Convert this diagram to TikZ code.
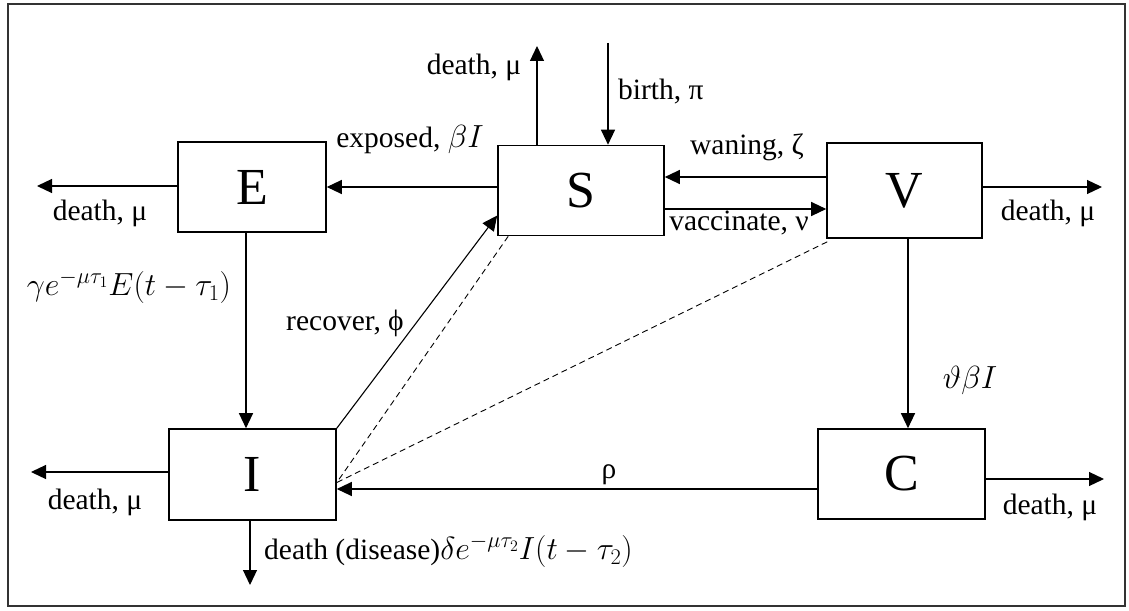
\RequirePackage{fix-cm}
\documentclass[tikz,border=0pt]{standalone}
\usepackage{fontspec}
\setmainfont{Liberation Serif}
\usetikzlibrary{arrows.meta,calc}

\newcommand{\mathbig}[1]{{\fontsize{32}{38}\selectfont$#1$}}

\tikzset{
  comp/.style={draw, line width=1.6pt, inner sep=0pt,
    font=\fontsize{52}{60}\selectfont},
  flow/.style={line width=1.2pt, -{Triangle[length=15pt,width=14pt]}},
  link/.style={line width=0.9pt, dash pattern=on 6pt off 4pt},
  lbl/.style={font=\fontsize{29.5}{35}\selectfont, inner sep=0pt},
}

\begin{document}
\begin{tikzpicture}[x=1pt,y=-1pt]
  \useasboundingbox (0,0) rectangle (1129,610);
  \draw[line width=1.5pt, black!80] (8,4) rectangle (1125,606);

  % compartments
  \node[comp, minimum width=148pt, minimum height=90pt] (E) at (252,187) {E};
  \node[comp, minimum width=166pt, minimum height=90pt] (S) at (581,190.5) {S};
  \node[comp, minimum width=155pt, minimum height=95pt] (V) at (904.5,190.5) {V};
  \node[comp, minimum width=167pt, minimum height=91pt] (I) at (252.5,474.5) {I};
  \node[comp, minimum width=167pt, minimum height=90pt] (C) at (901.5,474) {C};

  % free ends of the inflow / outflow arrows
  \coordinate (Edeath) at (37,186);
  \coordinate (Sdeath) at (537,46);
  \coordinate (Sbirth) at (608,43);
  \coordinate (Vdeath) at (1102,187);
  \coordinate (Cdeath) at (1104,479);
  \coordinate (Ideath) at (31,472);
  \coordinate (Idis) at (250,585);

  % attachment points on the box sides
  \coordinate (VwUp) at ($(V.west)+(0,-13.5)$);
  \coordinate (SeLow) at ($(S.east)+(0,18.5)$);
  \coordinate (Esx) at ($(E.south)+(-6,0)$);
  \coordinate (Vsx) at ($(V.south)+(3.5,0)$);
  \coordinate (rhoY) at (0,489);
  \coordinate (Swr) at ($(S.west)+(0,25)$);
  \coordinate (Ie) at ($(I.east)+(0,8)$);

  % S and its neighbours
  \draw[flow] (S.west |- E.east) -- (E.east);
  \draw[flow] (E.west |- Edeath) -- (Edeath);
  \draw[flow] (S.north -| Sdeath) -- (Sdeath);
  \draw[flow] (Sbirth) -- (S.north -| Sbirth);
  \draw[flow] (VwUp) -- (VwUp -| S.east);
  \draw[flow] (SeLow) -- (SeLow -| V.west);
  \draw[flow] (V.east |- Vdeath) -- (Vdeath);

  % vertical transfers
  \draw[flow] (Esx) -- (Esx |- I.north);
  \draw[flow] (Vsx) -- (Vsx |- C.north);

  % flows into and out of I and C
  \draw[flow] (C.west |- rhoY) -- (I.east |- rhoY);
  \draw[flow] (C.east |- Cdeath) -- (Cdeath);
  \draw[flow] (I.west |- Ideath) -- (Ideath);
  \draw[flow] (I.south -| Idis) -- (Idis);
  \draw[flow, line width=1.1pt] (I.north east) -- (Swr);

  % infection contacts
  \draw[link] ($(S.south west)+(11,0)$) -- (Ie);
  \draw[link] ($(V.south west)+(1,3)$) -- (Ie);

  % labels
  \node[lbl] (lEd) at (100,213) {death, μ};
  \node[lbl] (lexp) at (410,140) {exposed, \mathbig{\beta I}};
  \node[lbl] (lSd) at (474,67) {death, μ};
  \node[lbl, anchor=west] (lbirth) at (618,92) {birth, π};
  \node[lbl] (lwan) at (747,147) {waning, ζ};
  \node[lbl] (lvac) at (739,223) {vaccinate, ν};
  \node[lbl] (lVd) at (1048,213) {death, μ};
  \node[lbl] (lgam) at (129,287) {\mathbig{\gamma e^{-\mu\tau_1}E(t-\tau_1)}};
  \node[lbl] (lrec) at (345,323) {recover, ϕ};
  \node[lbl] (lvth) at (970,380) {\mathbig{\vartheta\beta I}};
  \node[lbl] (lrho) at (609,475) {ρ};
  \node[lbl] (lCd) at (1050,507) {death, μ};
  \node[lbl] (lId) at (95,502) {death, μ};
  \node[lbl, anchor=west] (ldis) at (264,551) {death (disease)\mathbig{\delta e^{-\mu\tau_2}I(t-\tau_2)}};
\end{tikzpicture}
\end{document}
